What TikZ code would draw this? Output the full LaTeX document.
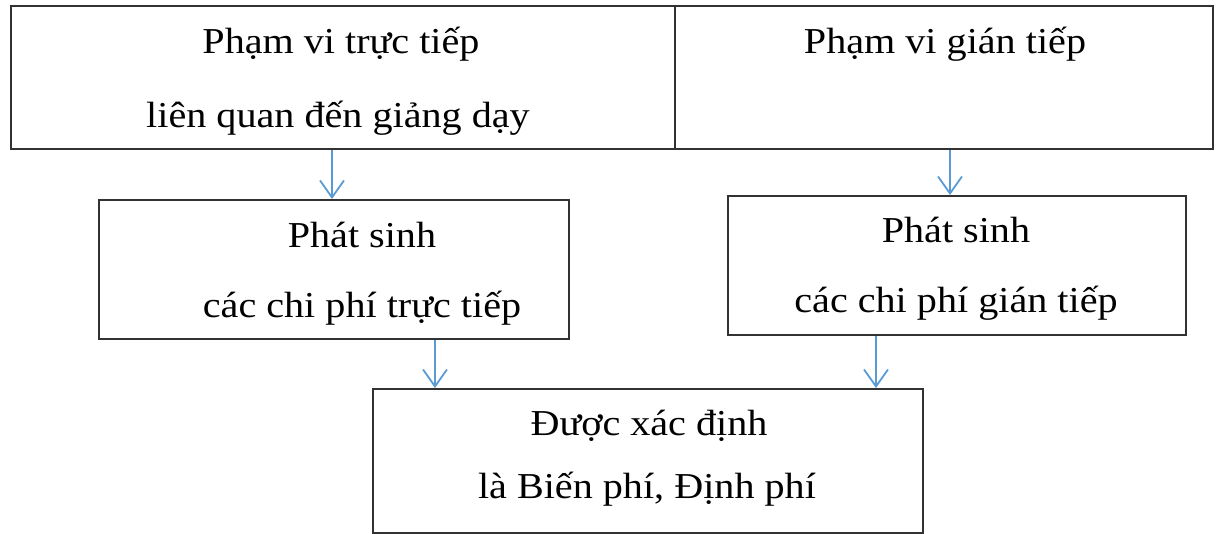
\documentclass[tikz,border=0pt]{standalone}
\usepackage{fontspec}
\setmainfont[FakeStretch=1.1]{Liberation Serif}
\usetikzlibrary{arrows.meta}
\definecolor{arrowblue}{RGB}{91,155,213}
\definecolor{boxline}{RGB}{50,50,50}
\begin{document}
\begin{tikzpicture}[x=1pt,y=-1pt,
  boxshape/.style={draw=boxline,line width=2.2pt,rectangle,inner sep=0pt,anchor=north west},
  txt/.style={anchor=base,inner sep=0pt,font=\fontsize{36.5}{44}\selectfont},
  conn/.style={draw=arrowblue,line width=1.8pt,-{Straight Barb[length=17pt,width=24pt,line width=1.8pt]}}]
\useasboundingbox (0,0) rectangle (1219,534);
% top row
\node[boxshape,minimum width=664pt,minimum height=143pt] (tl) at (10,5) {};
\node[boxshape,minimum width=538pt,minimum height=143pt] (tr) at (674,5) {};
\node[txt] (tl1) at (341,54) {Phạm vi trực tiếp};
\node[txt] (tl2) at (338,128) {liên quan đến giảng dạy};
\node[txt] (tr1) at (945,54) {Phạm vi gián tiếp};
% middle row
\node[boxshape,minimum width=470pt,minimum height=139pt] (ml) at (98,199) {};
\node[boxshape,minimum width=458pt,minimum height=139pt] (mr) at (727,195) {};
\node[txt] (ml1) at (362,248) {Phát sinh};
\node[txt] (ml2) at (362,318) {các chi phí trực tiếp};
\node[txt] (mr1) at (956,243) {Phát sinh};
\node[txt] (mr2) at (956,313) {các chi phí gián tiếp};
% bottom
\node[boxshape,minimum width=550pt,minimum height=144pt] (bt) at (372,388) {};
\node[txt] (bt1) at (649,436) {Được xác định};
\node[txt] (bt2) at (647,499) {là Biến phí, Định phí};
% connectors
\coordinate (a1) at (332,0);
\coordinate (a2) at (950,0);
\coordinate (a3) at (435,0);
\coordinate (a4) at (876,0);
\draw[conn] (tl.south -| a1) -- (ml.north -| a1);
\draw[conn] (tr.south -| a2) -- (mr.north -| a2);
\draw[conn] (ml.south -| a3) -- (bt.north -| a3);
\draw[conn] (mr.south -| a4) -- (bt.north -| a4);
\end{tikzpicture}
\end{document}
